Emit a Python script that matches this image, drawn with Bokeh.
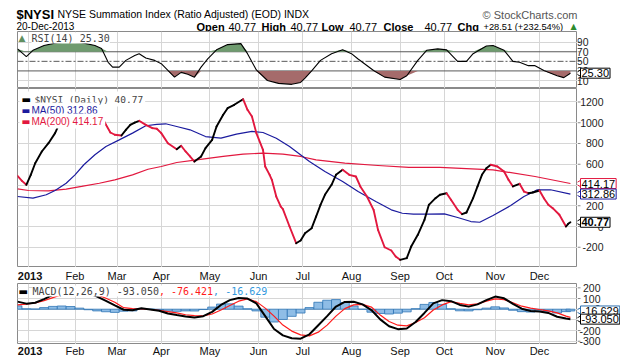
import numpy as np
from bokeh.plotting import figure
from bokeh.layouts import column, row
from bokeh.models import Range1d, FixedTicker, Label, Span
from bokeh.core.properties import value
from bokeh.embed import file_html
from bokeh.resources import INLINE

# ---------------- data (x = trading day, 0 = 2 Jan 2013) ----------------
month_start_day = [0, 21, 40, 60, 82, 104, 124, 146, 168, 188, 211, 231]
month_label = ["2013", "Feb", "Mar", "Apr", "May", "Jun", "Jul", "Aug", "Sep", "Oct", "Nov", "Dec"]
month_style = ["bold"] + ["normal"] * 11

price_day = [-5, -3, -1, 1, 3, 6, 9, 12, 14, 17, 20, 23, 26, 29, 31, 33, 35, 37, 39, 42, 44, 46, 48, 50,
             53, 56, 58, 60, 63, 67, 69, 71, 73, 75, 78, 80, 83, 85, 88, 90, 93, 97, 99, 101,
             103, 106, 107, 109, 110, 112, 114, 115, 118, 121, 123, 125, 128, 130, 132, 134, 137, 139, 142, 145,
             148, 150, 153, 156, 158, 161, 164, 166, 168, 171, 173, 176, 179, 181, 184, 186, 189, 191, 194, 196,
             198, 201, 203, 205, 207, 209, 212, 215, 217, 219, 222, 224, 226, 228, 231, 233, 235, 237, 240, 243,
             244, 245]
price_val = [489, 440, 402, 498, 610, 723, 803, 900, 996, 1060, 1110, 1140, 1130, 1078, 1066, 1060,
             980, 906, 884, 877, 932, 980, 1002, 1019,
             980, 948, 942, 900, 803, 745, 778, 723, 675, 626,
             675, 755, 835, 964, 1077, 1140, 1173, 1227, 1125, 1060,
             900, 739, 578, 498, 450, 289, 193, 167, 0, -161,
             -135, -64, -16, 96, 209, 306, 402, 498, 546, 498,
             482, 386, 289, 161, -32, -200, -231, -289, -321, -305,
             -193, -80, 64, 209, 273, 306, 321, 257, 161, 119,
             135, 273, 386, 498, 562, 595, 578, 530, 450, 386,
             412, 337, 321, 328, 347, 273, 209, 177, 113, 0,
             26, 40.77]

ma50_day = [-5, 2, 8, 12, 17, 21, 25, 30, 35, 41, 47, 53, 58, 62, 67, 73, 80, 87, 94, 101,
            106, 112, 118, 121, 127, 134, 142, 149, 157, 164, 169, 174, 181, 188, 194, 200, 204, 210, 218, 224,
            227, 230, 236, 245]
ma50_val = [289, 273, 306, 347, 417, 498, 595, 691, 771, 835, 900, 971, 985, 990, 964, 932, 867, 851, 890, 916,
            906, 851, 771, 723, 626, 530, 434, 337, 241, 161, 128, 119, 120, 122, 87, 48, 41, 106, 202, 289,
            321, 354, 354, 312.86]

ma200_day = [-5, 0, 9, 17, 24, 32, 39, 47, 54, 60, 67, 76, 88, 97, 106, 115, 123, 130, 143, 158,
             172, 186, 210, 229, 245]
ma200_val = [363, 347, 344, 360, 386, 417, 450, 498, 552, 578, 617, 643, 675, 697, 707, 697, 675, 643, 610, 588,
             569, 569, 546, 482, 414.17]

rsi_day = [-5, -1, 2, 7, 13, 18, 24, 30, 33, 36, 38, 41, 44, 48, 50, 53, 57, 60, 63, 66,
           69, 72, 75, 78, 81, 85, 90, 96, 99, 103, 108, 113, 119, 123, 125, 128, 132, 137, 142, 146,
           149, 156, 161, 168, 171, 176, 180, 185, 189, 194, 198, 201, 207, 210, 215, 219, 222, 226, 229, 233,
           239, 242, 245]
rsi_val = [76, 60, 73, 83, 89, 90, 89, 83, 77, 48, 38, 38, 52, 62, 66, 57, 52, 45, 31, 17,
           27, 23, 17, 38, 55, 74, 85, 87, 66, 32, 10, 4, 2, 6, 15, 30, 52, 66, 74, 66,
           55, 31, 17, 12, 20, 52, 73, 76, 74, 50, 50, 66, 82, 83, 73, 50, 48, 41, 41, 31,
           20, 16, 25.30]
rsi_upper, rsi_mid, rsi_lower = 70, 50, 30

macd_day = [-5, -1, 3, 7, 11, 15, 19, 23, 27, 31, 35, 39, 43, 47, 51, 55, 59, 63, 67, 71,
            75, 79, 83, 87, 91, 95, 99, 103, 107, 111, 115, 119, 123, 127, 131, 135, 139, 143, 147, 151,
            155, 159, 163, 167, 171, 175, 179, 183, 187, 191, 195, 199, 203, 207, 211, 215, 219, 223, 227, 231,
            235, 239, 243, 245]
macd_val = [71, 52, 60, 95, 134, 165, 180, 172, 150, 118, 78, 35, -5, -10, 8, -2, -15, -40, -55, -68,
            -78, -65, -25, 40, 85, 104, 100, 55, -65, -185, -245, -272, -276, -235, -150, -65, 25, 68, 70, 45,
            -8, -95, -160, -187, -181, -120, -35, 55, 85, 75, 40, 24, 45, 85, 118, 102, 50, 5, -17, -22,
            -35, -71, -88, -93.050]
signal_val = [40, 48, 58, 80, 108, 135, 155, 162, 155, 134, 102, 65, 14, 6, 2, -3, -10, -22, -35, -52,
              -61, -62, -45, -8, 35, 75, 96, 71, 10, -65, -149, -205, -240, -250, -215, -149, -65, 5, 40, 45,
              20, -55, -115, -150, -156, -125, -80, -8, 40, 71, 55, 40, 50, 75, 96, 90, 60, 28, 10, -3,
              -15, -35, -65, -76.421]

main_ticks = [-200, 0, 200, 400, 600, 800, 1000, 1200]
rsi_ticks = [10, 30, 50, 70, 90]
macd_ticks = [-300, -200, -100, 0, 100, 200]

# ---------------- styling constants ----------------
SANS = "Liberation Sans"
MONO = "DejaVu Sans Mono"
DEJA = "DejaVu Sans"
GRID = "#d6d6d6"
OUTLINE = "#8a8a8a"
RED = "#e2183f"
BLUE = "#1b1b9e"
SIGRED = "#ff1a1a"
HISTBLUE = "#3399dd"

FRAME_L = 17          # page x of the panels' left edge
PANEL_W = 577         # page x of the panels' right edge
AXIS_W = 43
STRIP_H = 16
x_range = Range1d(-5, 248.2)


def blank(width, height, xr, yr, left=0):
    p = figure(width=width, height=height, x_range=xr, y_range=yr, output_backend="svg",
               toolbar_location=None, x_axis_location=None, y_axis_location=None,
               min_border=0, min_border_left=left)
    p.outline_line_color = None
    p.grid.grid_line_color = None
    p.background_fill_color = "white"
    p.border_fill_color = "white"
    return p


def panel(height, yr, yticks):
    p = figure(width=PANEL_W, height=height, x_range=x_range, y_range=yr, output_backend="svg",
               toolbar_location=None, x_axis_location=None, y_axis_location=None,
               min_border=0, min_border_left=FRAME_L)
    p.outline_line_color = OUTLINE
    p.background_fill_color = "white"
    p.border_fill_color = "white"
    p.xgrid.ticker = FixedTicker(ticks=month_start_day)
    p.ygrid.ticker = FixedTicker(ticks=yticks)
    p.grid.grid_line_color = GRID
    return p


def axis_panel(height, yr, ticks, right_x):
    p = blank(AXIS_W, height, Range1d(0, AXIS_W), yr)
    p.segment(x0=0, y0=ticks, x1=3, y1=ticks, line_color=OUTLINE, line_width=1)
    p.text(x=right_x, y=ticks, text=[str(t) for t in ticks], text_align="right", text_baseline="middle",
           text_font=value(SANS), text_font_size="10.5px", text_color="#222222")
    return p


def callout(p, yv, text, border, bold=False, color="#000000"):
    p.scatter(x=[2.2], y=[yv], marker="triangle", angle=np.pi / 2, size=8,
              fill_color="white", line_color=border, line_width=1)
    p.add_layout(Label(x=3, y=yv, x_units="data", y_units="data", text=text,
                       text_font=SANS, text_font_size="11px", text_color=color,
                       text_font_style=("bold" if bold else "normal"),
                       text_baseline="middle", text_align="left",
                       background_fill_color="white", border_line_color=border, border_line_width=1,
                       padding=1))


def put(p, fb, px, py, text, **kw):
    """text at page position (px, py) inside a panel whose frame bottom is at page y = fb"""
    p.add_layout(Label(x=px - FRAME_L, y=fb - py, x_units="screen", y_units="screen", text=text, **kw))


def month_strip(label_y):
    # same horizontal geometry as the panels, so the month labels sit under the grid lines
    s = blank(PANEL_W, STRIP_H, x_range, Range1d(0, STRIP_H), left=FRAME_L)
    s.text(x=month_start_day, y=label_y, text=month_label, text_font_style=month_style,
           x_offset=[1.5] + [0] * 11,
           text_align="center", text_baseline="middle", text_font=value(SANS),
           text_font_size="11px", text_color="#111111")
    return s


# ---------------- header ----------------
HDR_H = 31
hdr = blank(620, HDR_H, Range1d(0, 620), Range1d(0, HDR_H))


def htext(px, py, text, size="11px", style="normal", color="#000000", align="left", font=SANS):
    hdr.add_layout(Label(x=px, y=HDR_H - py, text=text, text_font=font, text_font_size=size,
                         text_font_style=style, text_color=color, text_align=align,
                         text_baseline="alphabetic"))


htext(16, 13.5, "$NYSI", size="13px", style="bold")
htext(57, 13.5, "NYSE Summation Index (Ratio Adjusted) (EOD) INDX", size="10.5px")
htext(577, 14, "\u00a9 StockCharts.com", size="11px", color="#555555", align="right")
htext(16, 26, "20-Dec-2013", size="10px")
header_items = [(196, "Open", "bold"), (228, "40.77", "normal"), (261, "High", "bold"),
                (290, "40.77", "normal"), (321, "Low", "bold"), (349, "40.77", "normal"),
                (383, "Close", "bold"), (424, "40.77", "normal"), (457, "Chg", "bold"),
                (483, "+28.51 (+232.54%)", "normal")]
for hx, ht, hs in header_items:
    htext(hx, 26, ht, size=("9.3px" if ht.startswith("+") else "11px"), style=hs)
htext(570, 25.5, "\u25b2", size="8px", color="#2e8b2e", font=DEJA)

# ---------------- RSI panel (page y 31..88) ----------------
RSI_FB = 88
rsi_yr = Range1d(-6.7, 112.3)
rsi = panel(57, rsi_yr, [10, 90])
rd = np.array(rsi_day, dtype=float)
rv = np.array(rsi_val, dtype=float)
rsi.varea(x=rd, y1=rsi_upper, y2=np.maximum(rv, rsi_upper), fill_color="#6f9b6f")
rsi.varea(x=rd, y1=np.minimum(rv, rsi_lower), y2=rsi_lower, fill_color="#a56b6b")
for lvl in (rsi_upper, rsi_lower):
    rsi.add_layout(Span(location=lvl, dimension="width", line_color="#5a5a5a", line_width=1, level="underlay"))
rsi.add_layout(Span(location=rsi_mid, dimension="width", line_color="#5a5a5a", line_width=1,
                    line_dash="6 2 2 2", level="underlay"))
rsi.line(rd, rv, line_color="black", line_width=1.1)
put(rsi, RSI_FB, 18, 37.5, "\u25b2", text_font=DEJA, text_font_size="9px", text_color="#5f8f5f",
    text_baseline="middle")
put(rsi, RSI_FB, 31, 37.5, "RSI(14) %.2f" % rsi_val[-1], text_font=MONO, text_font_size="10px",
    text_baseline="middle", background_fill_color="white")
rsi_ax = axis_panel(57, rsi_yr, rsi_ticks, 11)
callout(rsi_ax, rsi_val[-1], "%.2f" % rsi_val[-1], "#000000")

# ---------------- main panel (page y 88..267) ----------------
MAIN_FB = 267
main_yr = Range1d(-395, 1330)
main = panel(179, main_yr, [-400] + main_ticks)
main.line(ma200_day, ma200_val, line_color=RED, line_width=1.2)
main.line(ma50_day, ma50_val, line_color=BLUE, line_width=1.2)
pdx = np.array(price_day, dtype=float)
pv = np.array(price_val, dtype=float)
seg_col = ["#000000" if d >= 0 else RED for d in np.diff(pv)]
main.segment(x0=pdx[:-1], y0=pv[:-1], x1=pdx[1:], y1=pv[1:], line_color=seg_col,
             line_width=1.9, line_cap="round")

for yy, col in ((98.5, "#000000"), (109.5, BLUE), (120.5, RED)):
    put(main, MAIN_FB, 19, yy, "\u25ac", text_font=DEJA, text_font_size="10px", text_color=col,
        text_baseline="middle", background_fill_color="white", padding=2)
put(main, MAIN_FB, 32, 98.5, "$NYSI (Daily) %.2f" % price_val[-1], text_font=MONO, text_font_size="9.5px",
    text_baseline="middle", background_fill_color="white", padding=2)
put(main, MAIN_FB, 29, 109.5, "MA(50) %.2f" % ma50_val[-1], text_font=SANS, text_font_size="10px",
    text_color=BLUE, text_baseline="middle", background_fill_color="white", padding=2)
put(main, MAIN_FB, 29, 120.5, "MA(200) %.2f" % ma200_val[-1], text_font=SANS, text_font_size="10px",
    text_color=RED, text_baseline="middle", background_fill_color="white", padding=2)

main_ax = axis_panel(179, main_yr, main_ticks, 26)
callout(main_ax, ma200_val[-1], "%.2f" % ma200_val[-1], RED)
callout(main_ax, ma50_val[-1], "%.2f" % ma50_val[-1], BLUE)
callout(main_ax, price_val[-1], "%.2f" % price_val[-1], "#000000", bold=True)

main_strip = month_strip(8)

# ---------------- MACD panel (page y 283..344) ----------------
MACD_H = 61
macd_yr = Range1d(-330.5, 240.6)
macd = panel(MACD_H, macd_yr, macd_ticks)
MACD_FB = 344
md = np.array(macd_day, dtype=float)
mv = np.array(macd_val, dtype=float)
sv = np.array(signal_val, dtype=float)
hist = mv - sv
macd.vbar(x=md, top=hist, bottom=0, width=4, fill_color="#8fbde6", line_color="#2f75b5", line_width=0.8)
macd.line(md, sv, line_color=SIGRED, line_width=1.2)
macd.line(md, mv, line_color="black", line_width=2)

put(macd, MACD_FB, 18, 290.5, "\u25ac", text_font=DEJA, text_font_size="10px", text_color="#000000",
    text_baseline="middle", background_fill_color="white")
put(macd, MACD_FB, 32, 290.5, "MACD(12,26,9) %.3f" % macd_val[-1], text_font=MONO, text_font_size="10px",
    text_baseline="middle", background_fill_color="white")
put(macd, MACD_FB, 158.4, 290.5, ", %.3f" % signal_val[-1], text_font=MONO, text_font_size="10px",
    text_color=SIGRED, text_baseline="middle", background_fill_color="white")
put(macd, MACD_FB, 212.6, 290.5, ", %.3f" % hist[-1], text_font=MONO, text_font_size="10px",
    text_color=HISTBLUE, text_baseline="middle", background_fill_color="white")

# the MACD price-axis column spans the month strips above and below the MACD panel
k = MACD_H / (macd_yr.end - macd_yr.start)
macd_ax_yr = Range1d(macd_yr.start - STRIP_H / k, macd_yr.end + STRIP_H / k)
macd_ax = axis_panel(MACD_H + 2 * STRIP_H, macd_ax_yr, macd_ticks, 23)
callout(macd_ax, hist[-1], "%.3f" % hist[-1], "#2c6fae")
callout(macd_ax, macd_val[-1], "%.3f" % macd_val[-1], "#000000")

macd_strip = month_strip(10)

layout = column(hdr,
                row(rsi, rsi_ax, spacing=0),
                row(main, main_ax, spacing=0),
                row(column(main_strip, macd, macd_strip, spacing=0), macd_ax, spacing=0),
                spacing=0)
open("out.html", "w").write(file_html(layout, INLINE))
